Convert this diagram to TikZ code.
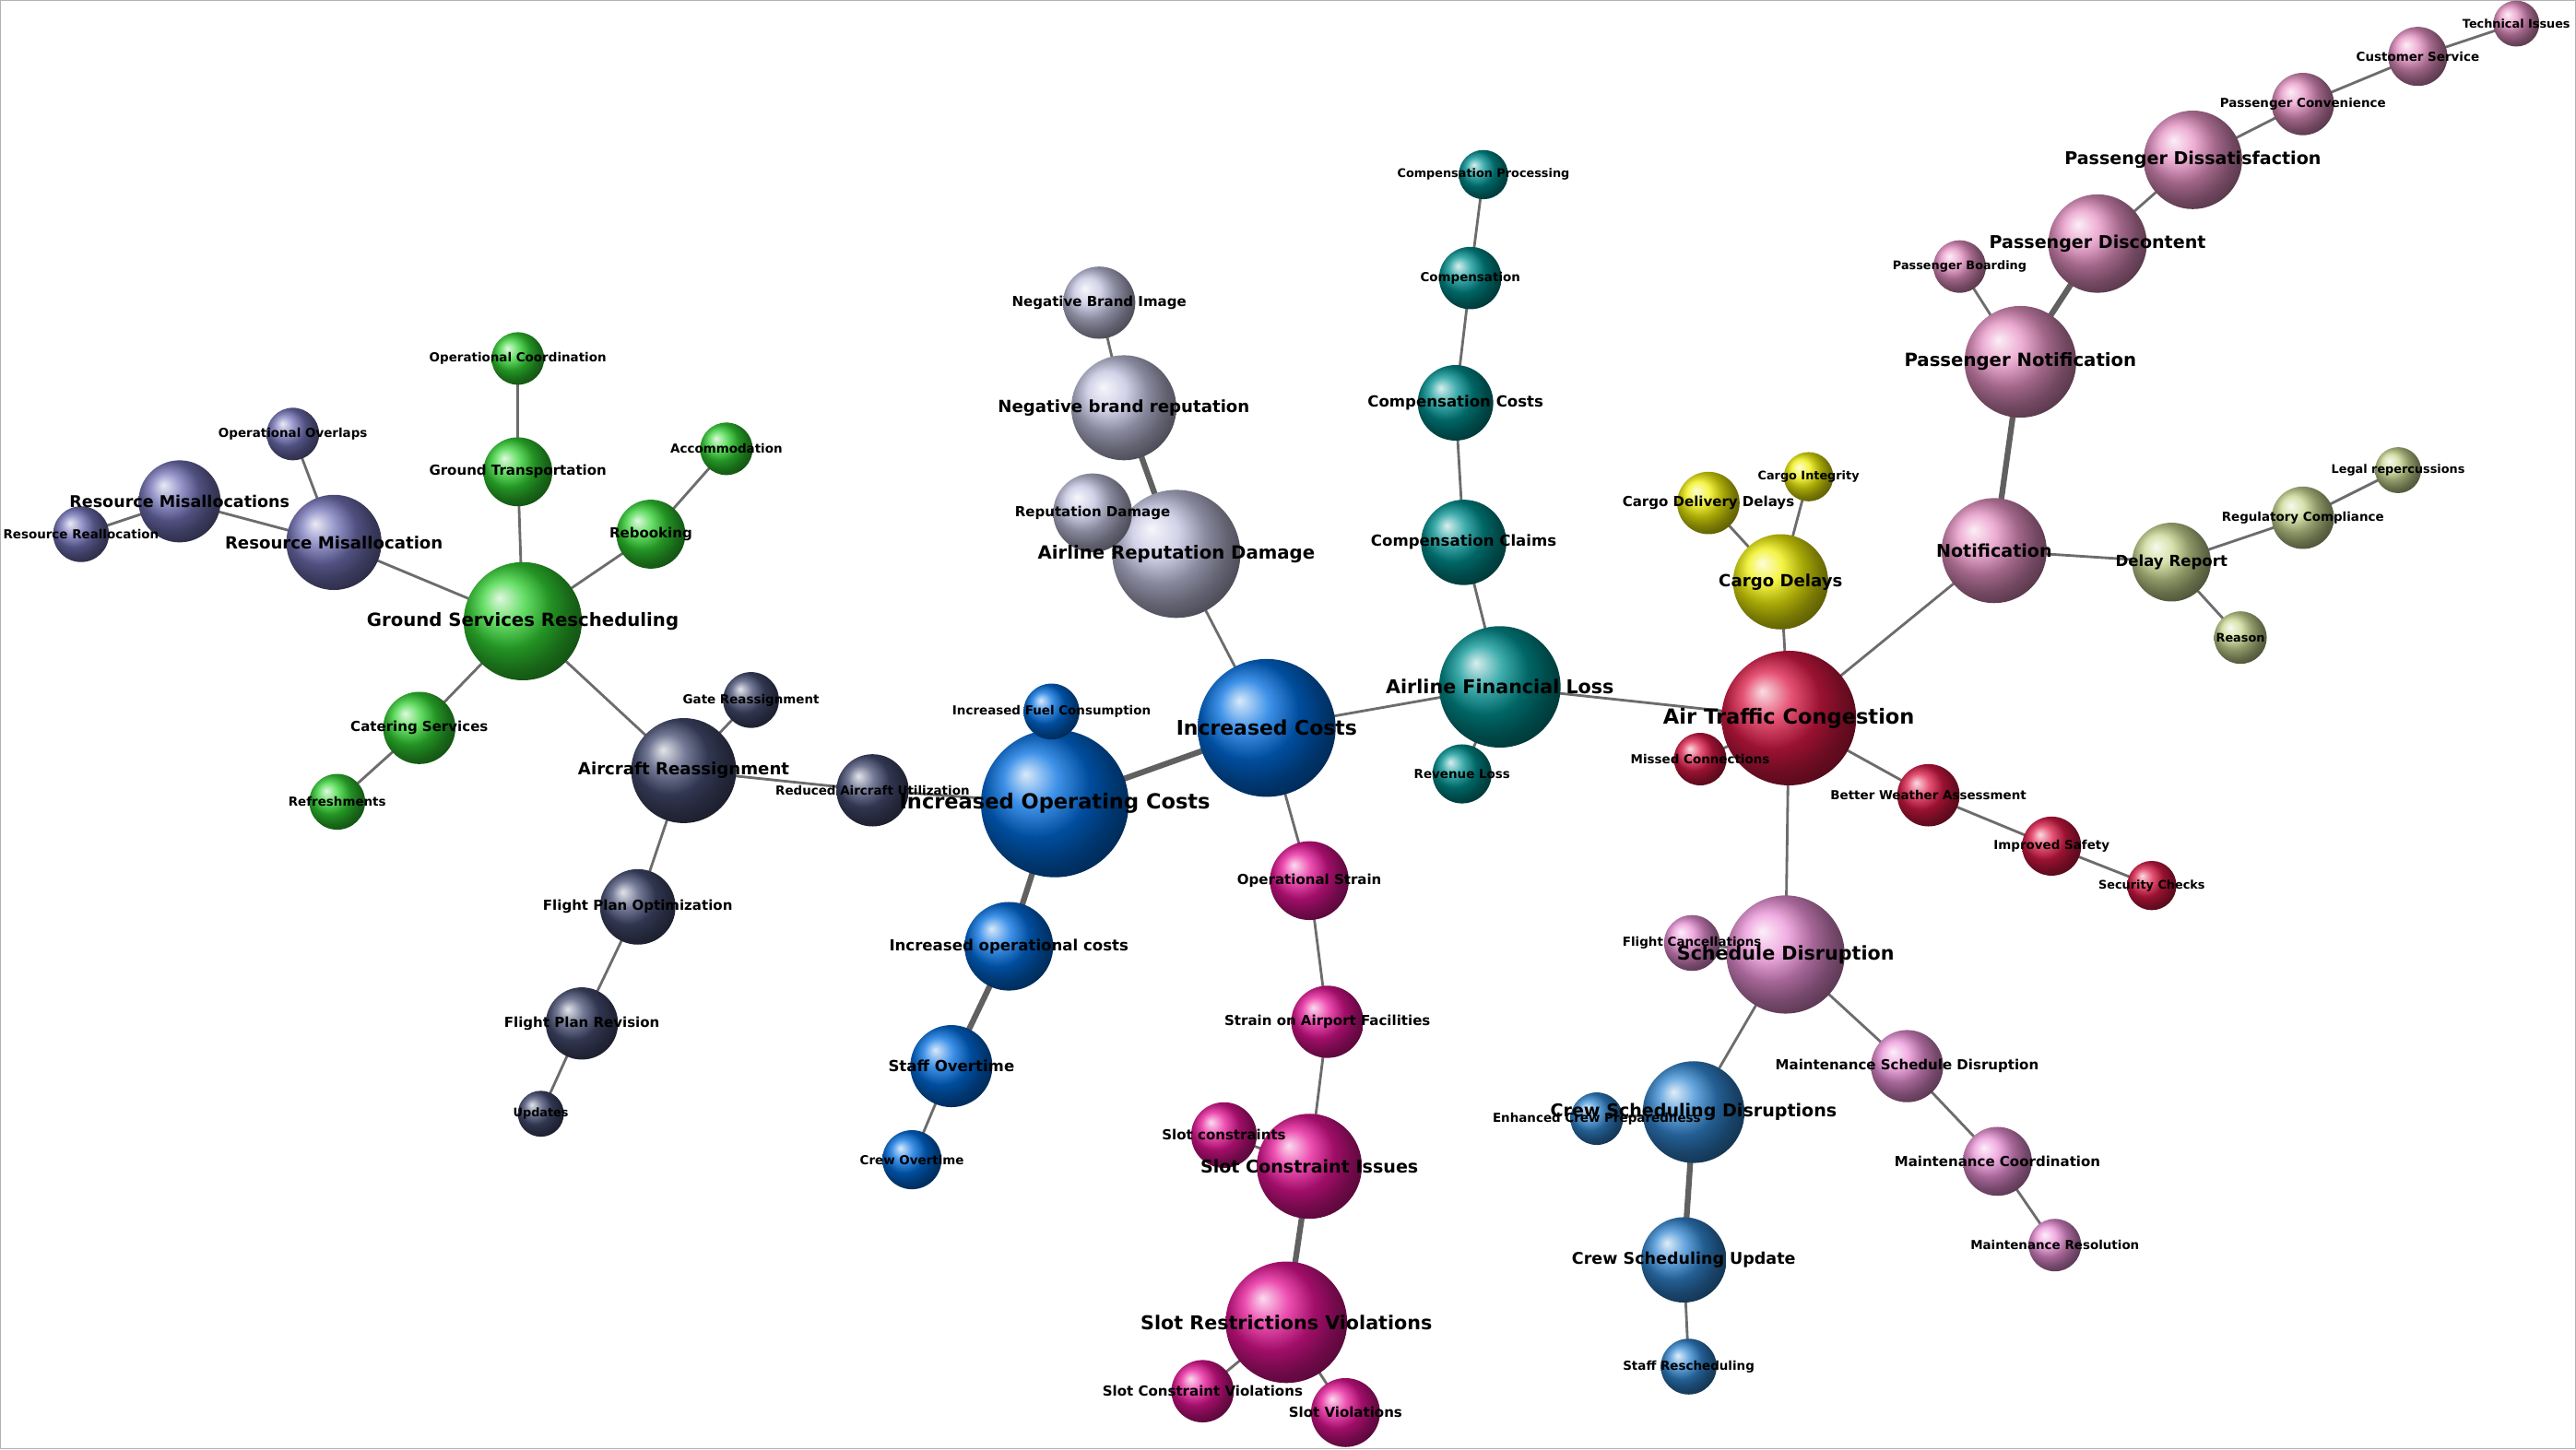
\documentclass[tikz,border=0pt]{standalone}
\usepackage{fontspec}
\setmainfont{DejaVu Sans}
\usetikzlibrary{shapes,backgrounds}
\definecolor{costblue}{RGB}{0,110,225}
\definecolor{navyslate}{RGB}{70,78,115}
\definecolor{groundgreen}{RGB}{50,210,50}
\definecolor{misalloc}{RGB}{115,115,185}
\definecolor{lavender}{RGB}{195,195,225}
\definecolor{strainmag}{RGB}{230,20,150}
\definecolor{lossteal}{RGB}{0,145,145}
\definecolor{congred}{RGB}{220,25,70}
\definecolor{cargoyellow}{RGB}{240,240,10}
\definecolor{notifpink}{RGB}{230,145,195}
\definecolor{reportolive}{RGB}{200,215,145}
\definecolor{schedorchid}{RGB}{235,145,215}
\definecolor{crewsteel}{RGB}{50,135,210}
\tikzset{
  bubble/.style={circle,inner sep=0pt,draw=none},
  edge/.style={draw=gray!85!black,line width=0.9pt},
  thickedge/.style={draw=gray!75!black,line width=2pt},
  lbl/.style={inner sep=0pt,text=black,preaction={draw=white,line width=0pt}},
}
\begin{document}
\begin{tikzpicture}[x=0.02cm,y=-0.02cm]
  \path[draw=gray!60] (0,0) rectangle (1568,882);
  % bubbles
  \foreach \n/\x/\y/\r/\c in {
    ic/771/443/42/costblue, ioc/642/489/45/costblue, ifc/640/433/17/costblue,
    rau/531/481/22/navyslate, ar/416/469/32/navyslate, gr/457/426/17/navyslate,
    fpo/388/552/23/navyslate, fpr/354/623/22/navyslate, upd/329/678/14/navyslate,
    gsr/318/378/36/groundgreen, cs/255/443/22/groundgreen, ref/205/488/17/groundgreen,
    reb/396/325/21/groundgreen, acc/442/273/16/groundgreen, gt/315/287/21/groundgreen,
    oc/315/218/16/groundgreen,
    rm/203/330/29/misalloc, oo/178/264/16/misalloc, rms/109/305/25/misalloc, rr/49/325/17/misalloc,
    ard/716/337/39/lavender, rd/665/312/24/lavender, nbr/684/248/32/lavender, nbi/669/184/22/lavender,
    iocs/614/576/27/costblue, so/579/649/25/costblue, co/555/706/18/costblue,
    os/797/536/24/strainmag, saf/808/622/22/strainmag, sci/797/710/32/strainmag,
    sc/745/691/20/strainmag, srv/783/805/37/strainmag, scv/732/847/19/strainmag, sv/819/860/21/strainmag,
    afl/913/418/37/lossteal, rl/890/471/18/lossteal, ccl/891/330/26/lossteal,
    cco/886/245/23/lossteal, comp/895/169/19/lossteal, cp/903/106/15/lossteal,
    atc/1089/437/41/congred, mc/1035/462/16/congred, bwa/1174/484/19/congred,
    is/1249/515/18/congred, sck/1310/539/15/congred,
    cd/1084/354/29/cargoyellow, cdd/1040/306/19/cargoyellow, ci/1101/290/15/cargoyellow,
    notif/1214/335/32/notifpink, pn/1230/220/34/notifpink, pb/1193/162/16/notifpink,
    pd/1277/148/30/notifpink, pdis/1335/97/30/notifpink, pc/1402/63/19/notifpink,
    cus/1472/34/18/notifpink, ti/1532/14/14/notifpink,
    dr/1322/342/24/reportolive, rc/1402/315/19/reportolive, lr/1460/286/14/reportolive,
    rsn/1364/388/16/reportolive,
    sd/1087/581/36/schedorchid, fc/1030/574/17/schedorchid, msd/1161/649/22/schedorchid,
    mco/1216/707/21/schedorchid, mr/1251/758/16/schedorchid,
    csd/1031/677/31/crewsteel, ecp/972/681/16/crewsteel, csu/1025/767/26/crewsteel,
    sr/1028/832/17/crewsteel}
    \node[bubble,ball color=\c,minimum size=\r*0.04cm] (\n) at (\x,\y) {};
  % connectors
  \begin{scope}[on background layer]
    \foreach \a/\b in {ic/ard,ic/afl,ic/os,ioc/ifc,ioc/rau,rau/ar,ar/gr,ar/fpo,
      ar/gsr,fpo/fpr,fpr/upd,gsr/cs,cs/ref,gsr/reb,reb/acc,gsr/gt,gt/oc,gsr/rm,
      rm/oo,rm/rms,rms/rr,ard/rd,nbr/nbi,so/co,os/saf,saf/sci,sci/sc,
      srv/scv,srv/sv,afl/rl,afl/ccl,ccl/cco,cco/comp,comp/cp,afl/atc,
      atc/mc,atc/bwa,bwa/is,is/sck,atc/cd,cd/cdd,cd/ci,atc/notif,pn/pb,
      pd/pdis,pdis/pc,pc/cus,cus/ti,notif/dr,dr/rc,rc/lr,dr/rsn,atc/sd,sd/fc,
      sd/msd,msd/mco,mco/mr,sd/csd,csd/ecp,csu/sr}
      \draw[edge] (\a.center) -- (\b.center);
    \foreach \a/\b in {ic/ioc,ard/nbr,ioc/iocs,iocs/so,sci/srv,notif/pn,pn/pd,csd/csu}
      \draw[thickedge] (\a.center) -- (\b.center);
  \end{scope}
  % labels
  \foreach \n/\t/\f in {
    ic/Increased Costs/7, ioc/Increased Operating Costs/7.2, ifc/Increased Fuel Consumption/4.3,
    rau/Reduced Aircraft Utilization/4.3, ar/Aircraft Reassignment/5.8, gr/Gate Reassignment/4.3,
    fpo/Flight Plan Optimization/4.8, fpr/Flight Plan Revision/4.8, upd/Updates/4.1,
    gsr/Ground Services Rescheduling/6.3, cs/Catering Services/4.8, ref/Refreshments/4.3,
    reb/Rebooking/4.8, acc/Accommodation/4.3, gt/Ground Transportation/4.8,
    oc/Operational Coordination/4.3,
    rm/Resource Misallocation/5.8, oo/Operational Overlaps/4.3, rms/Resource Misallocations/5.6,
    rr/Resource Reallocation/4.3,
    ard/Airline Reputation Damage/6.3, rd/Reputation Damage/4.8, nbr/Negative brand reputation/5.8,
    nbi/Negative Brand Image/4.8,
    iocs/Increased operational costs/5.3, so/Staff Overtime/5.3, co/Crew Overtime/4.3,
    os/Operational Strain/4.8, saf/Strain on Airport Facilities/4.8, sci/Slot Constraint Issues/6.1,
    sc/Slot constraints/4.8, srv/Slot Restrictions Violations/6.6, scv/Slot Constraint Violations/4.8,
    sv/Slot Violations/4.8,
    afl/Airline Financial Loss/6.6, rl/Revenue Loss/4.3, ccl/Compensation Claims/5.3,
    cco/Compensation Costs/5.3, comp/Compensation/4.3, cp/Compensation Processing/4.1,
    atc/Air Traffic Congestion/7.2, mc/Missed Connections/4.3, bwa/Better Weather Assessment/4.3,
    is/Improved Safety/4.3, sck/Security Checks/4.1,
    cd/Cargo Delays/5.8, cdd/Cargo Delivery Delays/4.8, ci/Cargo Integrity/4.1,
    notif/Notification/6.1, pn/Passenger Notification/6.3, pb/Passenger Boarding/4.1,
    pd/Passenger Discontent/6.1, pdis/Passenger Dissatisfaction/6.1, pc/Passenger Convenience/4.3,
    cus/Customer Service/4.3, ti/Technical Issues/4.1,
    dr/Delay Report/5.3, rc/Regulatory Compliance/4.3, lr/Legal repercussions/4.1, rsn/Reason/4.1,
    sd/Schedule Disruption/6.6, fc/Flight Cancellations/4.3, msd/Maintenance Schedule Disruption/4.8,
    mco/Maintenance Coordination/4.8, mr/Maintenance Resolution/4.3,
    csd/Crew Scheduling Disruptions/6.1, ecp/Enhanced Crew Preparedness/4.3,
    csu/Crew Scheduling Update/5.6, sr/Staff Rescheduling/4.3}
    \node[font=\bfseries\fontsize{\f}{\f}\selectfont,inner sep=0pt] at (\n) {\t};
\end{tikzpicture}
\end{document}
